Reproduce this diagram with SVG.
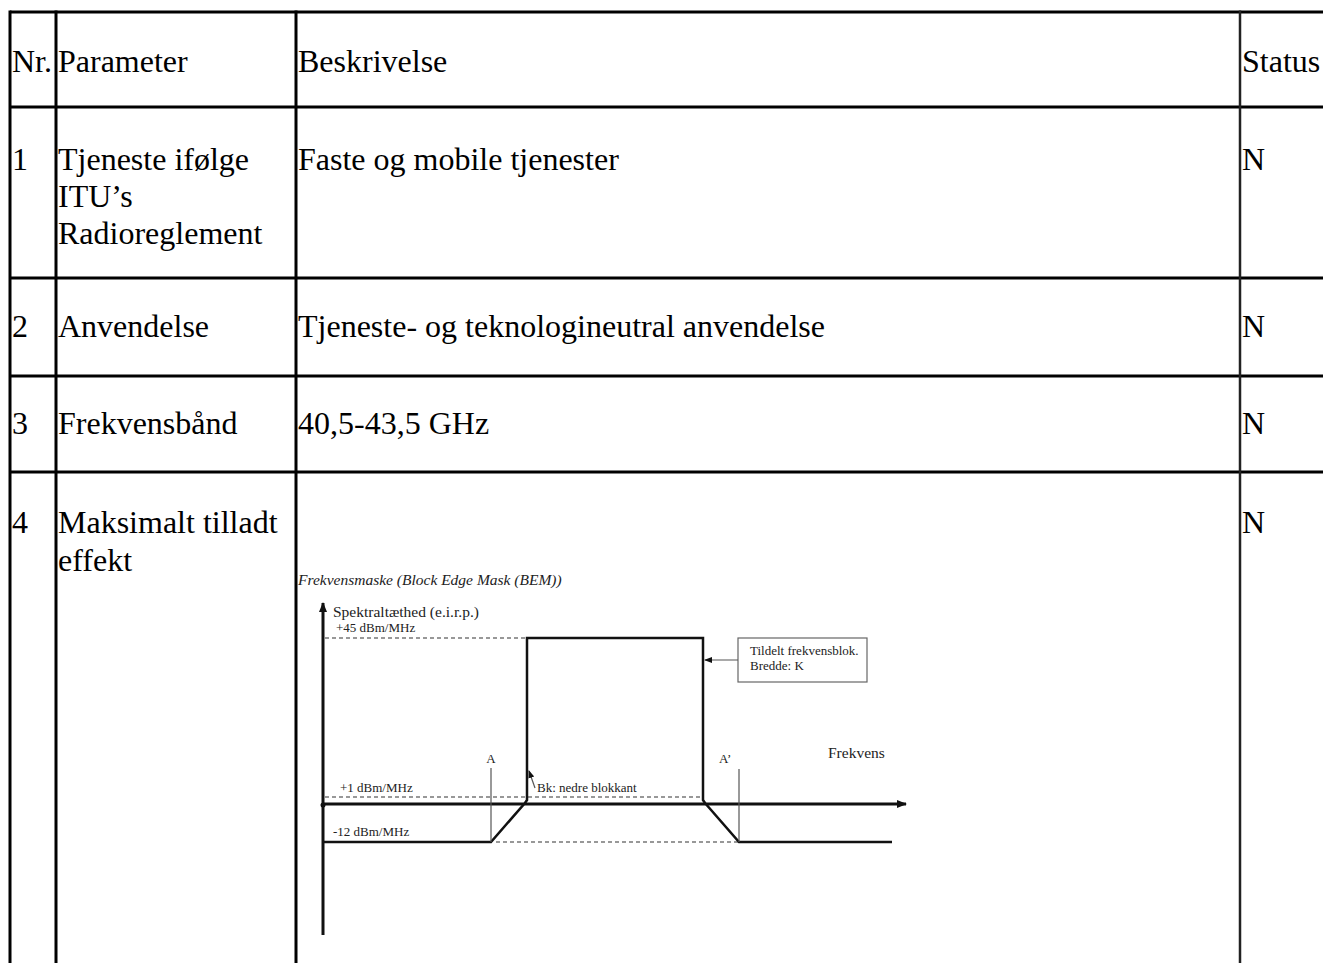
<svg xmlns="http://www.w3.org/2000/svg" width="1323" height="963" viewBox="0 0 1323 963">
<defs>
<style>
.t{font-family:"Liberation Serif","Times New Roman",serif;font-size:32px;fill:#000}
.c{font-family:"Liberation Serif","Times New Roman",serif;font-size:13px;fill:#222}
.cm{font-family:"Liberation Serif","Times New Roman",serif;font-size:15.5px;fill:#222}
.grid{stroke:#000;stroke-width:3;fill:none}
.ax{stroke:#111;stroke-width:3;fill:none}
.mk{stroke:#111;stroke-width:2.5;fill:none;stroke-linejoin:miter}
.dash{stroke:#777;stroke-width:1.5;stroke-dasharray:4 3;fill:none}
.thin{stroke:#555;stroke-width:1.2;fill:none}
</style>
<marker id="ah" markerWidth="10" markerHeight="10" refX="9" refY="5" orient="auto" markerUnits="userSpaceOnUse">
<path d="M0,1 L10,5 L0,9 Z" fill="#111"/>
</marker>
<marker id="ahs" markerWidth="8" markerHeight="8" refX="7" refY="4" orient="auto" markerUnits="userSpaceOnUse">
<path d="M0,1 L8,4 L0,7 Z" fill="#111"/>
</marker>
</defs>
<rect width="1323" height="963" fill="#fff"/>
<g id="table-grid">
<line class="grid" x1="10" y1="12" x2="1323" y2="12"/>
<line class="grid" x1="10" y1="107" x2="1323" y2="107"/>
<line class="grid" x1="10" y1="278" x2="1323" y2="278"/>
<line class="grid" x1="10" y1="376" x2="1323" y2="376"/>
<line class="grid" x1="10" y1="472" x2="1323" y2="472"/>
<line class="grid" x1="10" y1="10.5" x2="10" y2="963"/>
<line class="grid" x1="56" y1="10.5" x2="56" y2="963"/>
<line class="grid" x1="296" y1="10.5" x2="296" y2="963"/>
<line class="grid" x1="1240" y1="10.5" x2="1240" y2="963" style="stroke:#222;stroke-width:2.5"/>
</g>
<g id="header">
<text class="t" x="12" y="72">Nr.</text>
<text class="t" x="58" y="72">Parameter</text>
<text class="t" x="298" y="72">Beskrivelse</text>
<text class="t" x="1242" y="72">Status</text>
</g>
<g id="row1">
<text class="t" x="12" y="170">1</text>
<text class="t" x="58" y="170">Tjeneste ifølge</text>
<text class="t" x="58" y="207">ITU’s</text>
<text class="t" x="58" y="244">Radioreglement</text>
<text class="t" x="298" y="170">Faste og mobile tjenester</text>
<text class="t" x="1242" y="170">N</text>
</g>
<g id="row2">
<text class="t" x="12" y="337">2</text>
<text class="t" x="58" y="337">Anvendelse</text>
<text class="t" x="298" y="337">Tjeneste- og teknologineutral anvendelse</text>
<text class="t" x="1242" y="337">N</text>
</g>
<g id="row3">
<text class="t" x="12" y="434">3</text>
<text class="t" x="58" y="434">Frekvensbånd</text>
<text class="t" x="298" y="434">40,5-43,5 GHz</text>
<text class="t" x="1242" y="434">N</text>
</g>
<g id="row4">
<text class="t" x="12" y="533">4</text>
<text class="t" x="58" y="533">Maksimalt tilladt</text>
<text class="t" x="58" y="571">effekt</text>
<text class="t" x="1242" y="533">N</text>
</g>
<g id="chart">
<text class="cm" x="298" y="585" font-style="italic">Frekvensmaske (Block Edge Mask (BEM))</text>
<text class="cm" x="333" y="617">Spektraltæthed (e.i.r.p.)</text>
<text class="c" x="336" y="632">+45 dBm/MHz</text>
<text class="c" x="340" y="792">+1 dBm/MHz</text>
<text class="c" x="333" y="836">-12 dBm/MHz</text>
<text class="c" x="491" y="763" text-anchor="middle">A</text>
<text class="c" x="719" y="763">A’</text>
<text class="cm" x="828" y="758">Frekvens</text>
<text class="c" x="537" y="792">Bk: nedre blokkant</text>
<rect x="738" y="638" width="129" height="44" fill="#fff" stroke="#666" stroke-width="1.2"/>
<text class="c" x="750" y="655">Tildelt frekvensblok.</text>
<text class="c" x="750" y="670">Bredde: K</text>
</g>
<g id="connectors">
<line class="dash" x1="325" y1="638" x2="527" y2="638"/>
<line class="dash" x1="325" y1="797" x2="703" y2="797"/>
<line class="dash" x1="496" y1="842" x2="739" y2="842"/>
<line class="ax" x1="323" y1="935" x2="323" y2="603" marker-end="url(#ah)"/>
<line class="ax" x1="323" y1="804" x2="906" y2="804" marker-end="url(#ah)"/>
<circle cx="323" cy="805" r="2.5" fill="#111"/>
<polyline class="mk" points="323,842 491,842 525,803 527,800 527,638 703,638 703,800 705,803 739,842 892,842"/>
<line class="thin" x1="491" y1="768" x2="491" y2="842"/>
<line class="thin" x1="739" y1="769" x2="739" y2="842"/>
<line class="thin" x1="738" y1="660" x2="705" y2="660" marker-end="url(#ahs)"/>
<line class="thin" x1="535" y1="788" x2="529" y2="771" marker-end="url(#ahs)"/>
</g>
</svg>
